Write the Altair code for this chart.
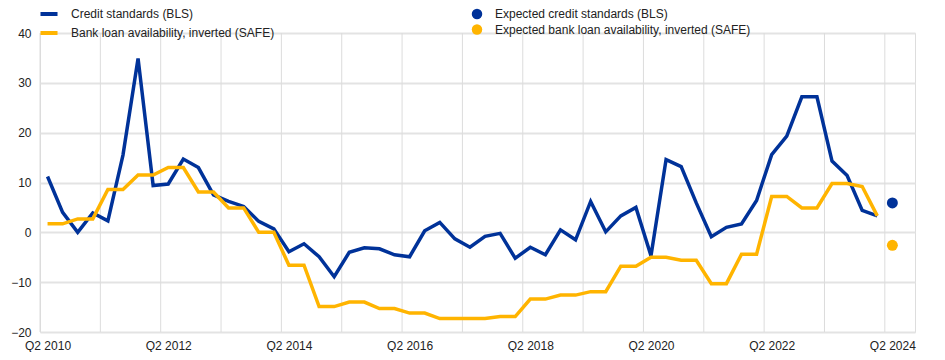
import altair as alt
import pandas as pd

# Quarterly data, Q2 2010 .. Q1 2024 (index 0..55); expectations at Q2 2024 (index 56)
series_names = ["Credit standards (BLS)", "Bank loan availability, inverted (SAFE)"]
expected_names = ["Expected credit standards (BLS)", "Expected bank loan availability, inverted (SAFE)"]

credit_standards = [11.2, 4.0, 0.0, 3.9, 2.3, 15.5, 34.9, 9.4, 9.7, 14.7, 13.0, 7.5, 6.2, 5.2,
                    2.2, 0.7, -3.9, -2.3, -4.9, -8.9, -4.0, -3.1, -3.3, -4.5, -4.9, 0.3, 2.0, -1.3,
                    -3.0, -0.8, -0.2, -5.2, -3.0, -4.5, 0.5, -1.5, 6.2, 0.1, 3.3, 5.0, -4.7, 14.6,
                    13.2, 5.9, -0.9, 1.0, 1.7, 6.4, 15.6, 19.3, 27.2, 27.2, 14.3, 11.4, 4.4, 3.3]
loan_availability = [1.7, 1.7, 2.7, 2.7, 8.6, 8.6, 11.5, 11.5, 13.0, 13.0, 8.1, 8.1, 4.9, 4.9,
                     0.0, 0.0, -6.6, -6.6, -14.9, -14.9, -14.0, -14.0, -15.3, -15.3, -16.2, -16.2, -17.3, -17.3,
                     -17.3, -17.3, -16.9, -16.9, -13.4, -13.4, -12.6, -12.6, -11.9, -11.9, -6.8, -6.8, -5.0, -5.0,
                     -5.6, -5.6, -10.3, -10.3, -4.4, -4.4, 7.2, 7.2, 4.9, 4.9, 9.8, 9.8, 9.2, 3.3]
expected_index = [56, 56]
expected_values = [5.9, -2.6]

x_tick_index = [0, 8, 16, 24, 32, 40, 48, 56]
y_ticks = [-20, -10, 0, 10, 20, 30, 40]
grid_index = [-0.5 + 4 * k for k in range(15)]

BLUE = "#003299"
YELLOW = "#FFB400"
FONT = "Liberation Sans"

rows = []
for i, v in enumerate(credit_standards):
    rows.append({"i": i, "series": series_names[0], "value": v})
for i, v in enumerate(loan_availability):
    rows.append({"i": i, "series": series_names[1], "value": v})
df = pd.DataFrame(rows)
df_exp = pd.DataFrame({"i": expected_index, "series": expected_names, "value": expected_values})
df_grid = pd.DataFrame({"g": grid_index})

x_scale = alt.Scale(domain=[-0.5, 57.5], nice=False, zero=False)
y_scale = alt.Scale(domain=[-20, 40], nice=False, zero=False)

x_axis = alt.Axis(values=x_tick_index, labelExpr="'Q2 ' + (2010 + datum.value / 4)",
                  grid=False, ticks=False, domain=False, title=None, labelPadding=8,
                  labelFontSize=12, labelFont=FONT, labelColor="#222222")
y_axis = alt.Axis(values=y_ticks, grid=True, gridColor="#e3e3e3", gridWidth=2,
                  ticks=False, domain=False, title=None, labelPadding=9,
                  labelFontSize=12, labelFont=FONT, labelColor="#222222")

vgrid = alt.Chart(df_grid).mark_rule(color="#dcdcdc", strokeWidth=1).encode(
    x=alt.X("g:Q", scale=x_scale, axis=x_axis)
)

stroke_enc = alt.Stroke("series:N",
                        scale=alt.Scale(domain=series_names, range=[BLUE, YELLOW]),
                        legend=alt.Legend(orient="none", legendX=-2, legendY=-30, title=None,
                                          symbolType="stroke", symbolStrokeWidth=4, symbolSize=290,
                                          labelFontSize=12, labelFont=FONT, labelColor="#222222",
                                          labelLimit=0, labelOffset=11, rowPadding=-3,
                                          direction="vertical"))

def line_layer(name):
    return alt.Chart(df).transform_filter(alt.datum.series == name).mark_line(
        strokeWidth=3.5, strokeJoin="miter").encode(
        x=alt.X("i:Q", scale=x_scale, axis=x_axis),
        y=alt.Y("value:Q", scale=y_scale, axis=y_axis),
        stroke=stroke_enc,
    )

points = alt.Chart(df_exp).mark_point(filled=True, size=120, opacity=1, shape="circle").encode(
    x=alt.X("i:Q", scale=x_scale, axis=x_axis),
    y=alt.Y("value:Q", scale=y_scale, axis=y_axis),
    fill=alt.Fill("series:N",
                  scale=alt.Scale(domain=expected_names, range=[BLUE, YELLOW]),
                  legend=alt.Legend(orient="none", legendX=431, legendY=-25, title=None,
                                    symbolType="circle", symbolSize=110, symbolStrokeWidth=0,
                                    labelFontSize=12, labelFont=FONT, labelColor="#222222",
                                    labelLimit=0, labelOffset=12, rowPadding=3.5,
                                    direction="vertical")),
)

chart = alt.layer(vgrid, line_layer(series_names[0]), line_layer(series_names[1]), points).properties(
    width=875, height=299,
    autosize=alt.AutoSizeParams(type="none"),
    padding={"left": 32, "top": 25, "right": 20, "bottom": 20},
).configure_view(stroke=None).configure(font=FONT)

chart.save("out.html", embed_options={"renderer": "svg", "actions": False})
